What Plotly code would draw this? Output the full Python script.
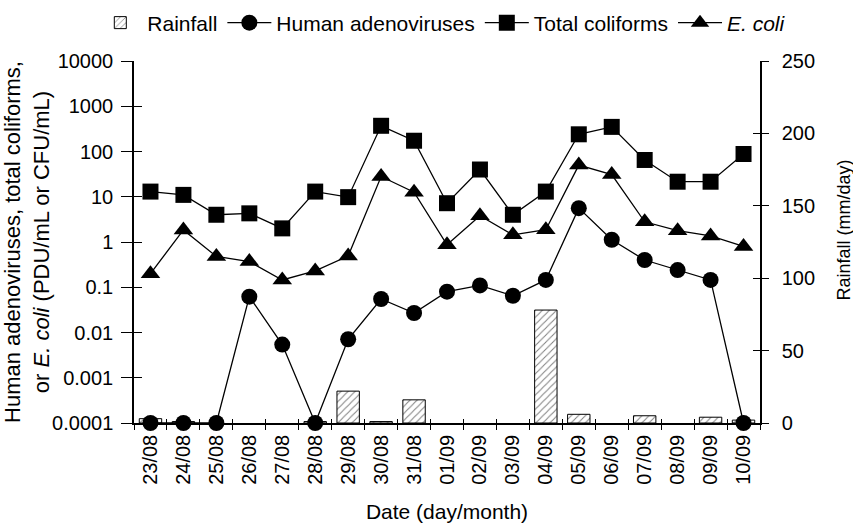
import numpy as np
import plotly.graph_objects as go

# ---------------- data ----------------
dates = ["23/08", "24/08", "25/08", "26/08", "27/08", "28/08", "29/08", "30/08",
         "31/08", "01/09", "02/09", "03/09", "04/09", "05/09", "06/09", "07/09",
         "08/09", "09/09", "10/09"]
rainfall = [3, 1, 0, 0, 0, 1, 22, 1, 16, 0, 0, 0, 78, 6, 0, 5, 0, 4, 2]
adenovirus = [1e-4, 1e-4, 1e-4, 0.062, 0.0054, 1e-4, 0.0071, 0.055, 0.027, 0.080,
              0.11, 0.065, 0.145, 5.6, 1.12, 0.40, 0.24, 0.145, 1e-4]
total_coliforms = [13, 11, 4.0, 4.3, 2.0, 13, 9.8, 370, 173, 7.2, 40, 4.0, 13,
                   240, 350, 65, 21.5, 21.5, 88]
ecoli = [0.20, 1.85, 0.48, 0.37, 0.145, 0.23, 0.49, 28, 12.6, 0.87, 3.8, 1.44,
         1.87, 50, 31, 2.8, 1.78, 1.36, 0.80]
log_ticks = [1e-4, 1e-3, 1e-2, 1e-1, 1, 10, 100, 1000, 10000]
log_ticktext = ["0.0001", "0.001", "0.01", "0.1", "1", "10", "100", "1000", "10000"]

FONT = "Liberation Sans, Arial, sans-serif"
FS = 20

n = len(dates)
cat_range = [-0.5, n - 0.5]
bar_line_w = [1 if r > 0 else 0 for r in rainfall]

fig = go.Figure()

# rainfall bars (right axis, outside ticks)
fig.add_trace(go.Bar(
    x=dates, y=rainfall, name="Rainfall", xaxis="x", yaxis="y", width=0.68,
    marker=dict(color="white", line=dict(color="black", width=bar_line_w),
                pattern=dict(shape="/", fgcolor="black", bgcolor="white",
                             size=5, solidity=0.2)),
    hoverinfo="x+y",
))
# transparent copy so that the inner tick marks of the right axis are drawn
fig.add_trace(go.Bar(
    x=dates, y=rainfall, xaxis="x", yaxis="y4", width=0.68, showlegend=False,
    marker=dict(color="rgba(0,0,0,0)", line=dict(width=0)), hoverinfo="skip",
))

series = [
    ("Human adenoviruses", adenovirus, "circle", 16, "y2"),
    ("Total coliforms", total_coliforms, "square", 16, "y3"),
    ("<i>E. coli</i>", ecoli, "triangle-up", 17, "y2"),
]
for name, vals, sym, sz, yax in series:
    fig.add_trace(go.Scatter(
        x=dates, y=vals, name=name, mode="lines+markers", xaxis="x3", yaxis=yax,
        line=dict(color="black", width=1.3),
        marker=dict(symbol=sym, size=sz, color="black"),
        cliponaxis=False,
    ))

axis_common = dict(showgrid=False, zeroline=False, linecolor="black",
                   tickcolor="black", tickwidth=1.3)
inner = dict(showticklabels=False, showline=False, **axis_common)

fig.update_layout(
    width=853, height=531,
    margin=dict(l=134, r=93, t=61, b=108, autoexpand=False),
    paper_bgcolor="white", plot_bgcolor="white",
    font=dict(family=FONT, size=FS, color="black"),
    barmode="overlay",
    showlegend=True,
    legend=dict(orientation="h", x=-0.065, xanchor="left", y=1.105,
                yanchor="middle", font=dict(size=21), bgcolor="rgba(0,0,0,0)",
                itemwidth=44, traceorder="normal"),
    xaxis=dict(type="category", categoryorder="array", categoryarray=dates,
               range=cat_range, tickson="boundaries", ticks="outside",
               ticklen=5, tickangle=-90, showline=True, linewidth=1.5,
               anchor="y", ticklabelstandoff=2,
               title=dict(text="Date (day/month)", standoff=20,
                          font=dict(size=21)),
               tickfont=dict(size=FS), **axis_common),
    xaxis3=dict(type="category", categoryorder="array", categoryarray=dates,
                overlaying="x", anchor="y", range=cat_range,
                tickson="boundaries", ticks="inside", ticklen=4, **inner),
    yaxis=dict(side="right", range=[0, 250], dtick=50, ticks="outside",
               ticklen=7, showline=True, linewidth=1.5, anchor="x",
               ticklabelstandoff=9,
               tickfont=dict(size=FS), **axis_common),
    yaxis4=dict(overlaying="y", anchor="x", side="right", range=[0, 250],
                dtick=50, ticks="inside", ticklen=7, **inner),
    yaxis2=dict(side="left", overlaying="y", anchor="x", type="log",
                range=[-4, 4], tickmode="array", tickvals=log_ticks,
                ticktext=log_ticktext, ticks="outside", ticklen=11,
                showline=True, linewidth=1.5, ticklabelstandoff=4,
                title=dict(text="Human adenoviruses, total coliforms,<br>or <i>E. coli</i> (PDU/mL or CFU/mL)",
                           standoff=5, font=dict(size=22)),
                tickfont=dict(size=FS), **axis_common),
    yaxis3=dict(overlaying="y", anchor="x", side="left", type="log",
                range=[-4, 4], tickmode="array", tickvals=log_ticks,
                ticks="inside", ticklen=8, **inner),
    annotations=[dict(text="Rainfall (mm/day)", textangle=-90, showarrow=False,
                      xref="paper", yref="paper", x=1.135, y=0.533,
                      xanchor="center", yanchor="middle",
                      font=dict(size=18))],
)

fig.write_html("out.html")
